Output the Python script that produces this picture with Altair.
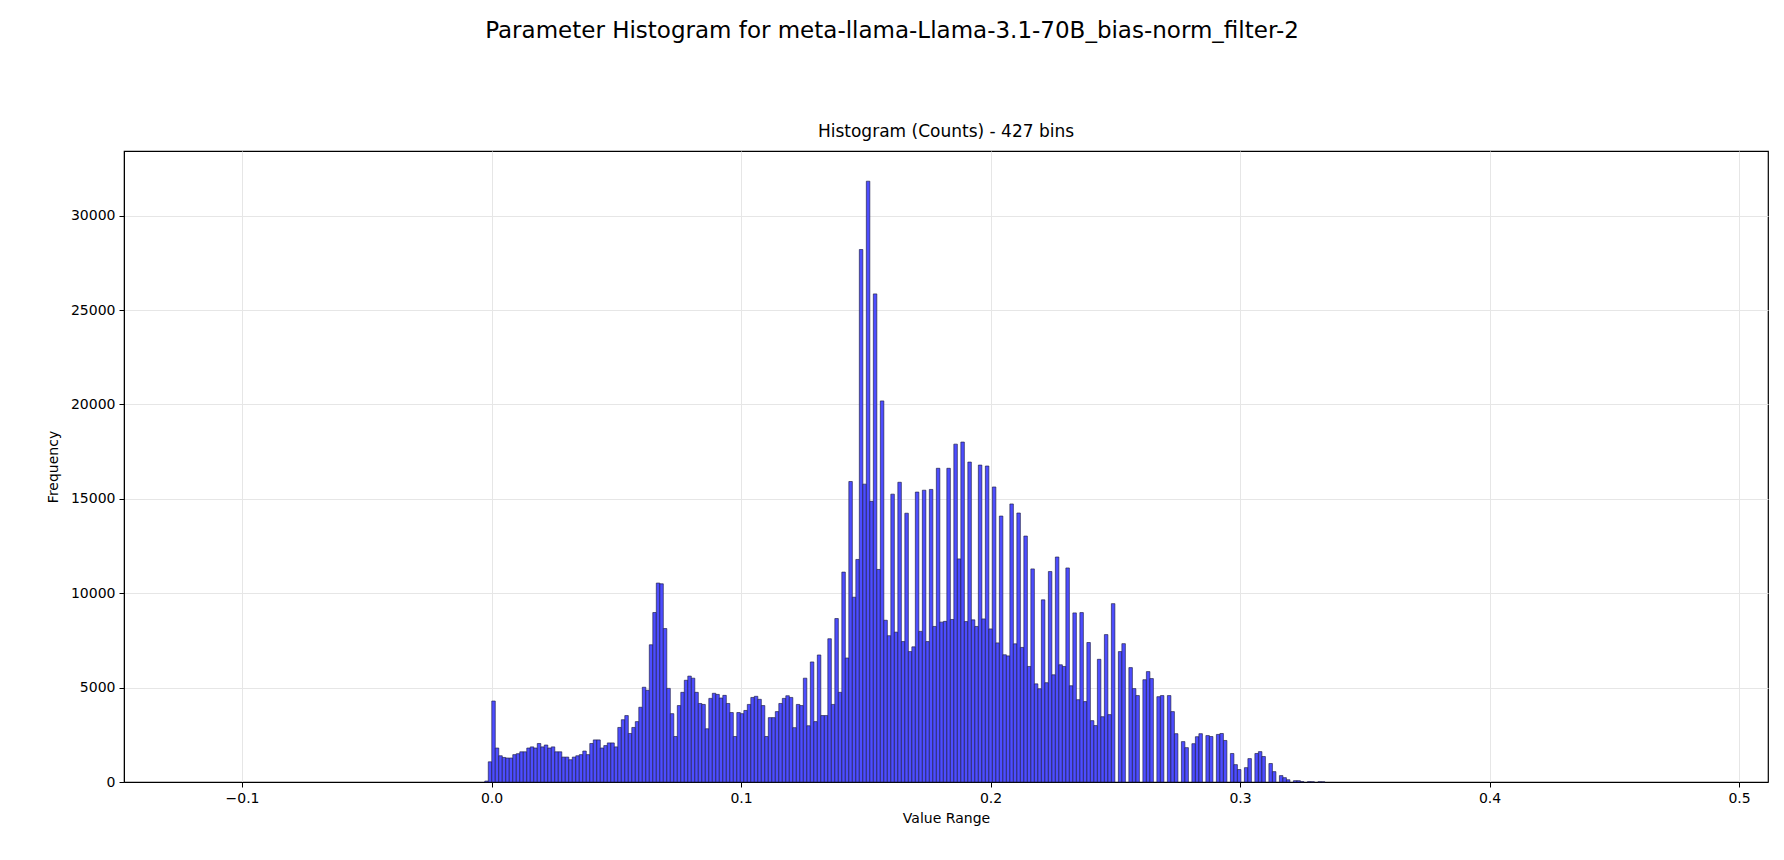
import altair as alt
import pandas as pd

N_BINS = 427
BIN_MIN = -0.11775
BIN_W = 0.001403
FIRST_NONZERO = 82

counts_from_first = [
    50, 1070, 4290, 1800, 1390, 1300, 1270, 1270, 1450, 1500, 1600, 1600, 1800, 1860, 1800, 2040, 1860, 1960, 1800, 1860,
    1600, 1600, 1320, 1320, 1180, 1320, 1390, 1450, 1640, 1450, 2040, 2230, 2230, 1800, 1930, 2070, 2070, 1860, 2890, 3300,
    3520, 2570, 2890,
    3200, 3960, 5020, 4860, 7270, 8980, 10540, 10500, 8130, 4960, 3620, 2410, 4050, 4750, 5390, 5610, 5500, 4750, 4160, 4110,
    2820, 4430, 4700, 4640, 4450, 4590, 4160, 3680, 2410, 3680, 3620, 3790, 4110, 4480, 4540, 4380, 4050, 2410, 3410, 3410, 3730,
    4160, 4430, 4570, 4480, 2880, 4110, 4050, 5500, 2980, 6360, 3200, 6730, 3520, 3520, 7590, 4110, 8660, 4750, 11120, 6570,
    15920, 9790, 11790, 28210, 15780, 31830, 14870, 25860, 11260, 20190, 8570, 7750, 15250, 7940, 15880, 7440, 14240, 6910,
    7160, 15360, 7980, 15460, 7440, 15500, 8240, 16620, 8470, 8510, 16620, 8610,
    17900, 11820, 18010, 8500, 16950, 8590, 8240, 16790, 8640, 16740, 8110, 15630, 7370, 14090, 6740, 6680, 14730, 7320,
    14250, 7130, 13030, 6120, 11290, 5200, 4940, 9650, 5260, 11150, 5680, 11920, 6210, 6120, 11340, 5100, 8960, 4360,
    8975, 4260, 7390, 3250, 2990, 6500, 3460, 7810, 3570, 9450, 0, 6910, 7330, 0, 6060, 4950, 4580, 0, 5420, 5850, 5480, 0,
    4520, 4580, 0, 4580, 3730, 2560, 0, 2140, 1820, 0, 2030, 2400, 2560,
    0, 2460, 2410, 0, 2520, 2570, 2200, 0, 1510, 920, 660, 0, 760, 1240, 0, 1510, 1610, 1350, 0, 980, 550, 0, 340, 230, 120,
    0, 70, 70, 20, 0, 15, 10, 0, 10, 5,
]

counts = [0] * N_BINS
for i, c in enumerate(counts_from_first):
    counts[FIRST_NONZERO + i] = c

rows = []
for i, c in enumerate(counts):
    if c > 0:
        rows.append({"start": BIN_MIN + i * BIN_W, "end": BIN_MIN + (i + 1) * BIN_W, "count": c, "zero": 0})
df = pd.DataFrame(rows)

x_ticks = [-0.1, 0.0, 0.1, 0.2, 0.3, 0.4, 0.5]
y_ticks = [0, 5000, 10000, 15000, 20000, 25000, 30000]

W, H = 1644, 631

xscale = alt.Scale(domain=[-0.1473, 0.5116], nice=False, zero=False)
yscale = alt.Scale(domain=[0, 33430], nice=False)

bars = alt.Chart(df).mark_bar(
    color="#4d4dff", stroke="#1a1a40", strokeWidth=0.7, strokeOpacity=0.9
).encode(
    x=alt.X("start:Q", scale=xscale, axis=alt.Axis(
        values=x_ticks, format=".1f", title="Value Range", grid=True, gridColor="#e6e6e6",
        labelFontSize=14, titleFontSize=14, titleFontWeight="normal", labelColor="black", titleColor="black",
        tickColor="black", domainColor="black", titlePadding=6, labelPadding=4)),
    x2="end:Q",
    y=alt.Y("count:Q", scale=yscale, axis=alt.Axis(
        values=y_ticks, format="d", title="Frequency", grid=True, gridColor="#e6e6e6",
        labelFontSize=14, titleFontSize=14, titleFontWeight="normal", labelColor="black", titleColor="black",
        tickColor="black", domainColor="black", titlePadding=10, labelPadding=4)),
    y2="zero:Q",
)

titles = pd.DataFrame({
    "t": ["Parameter Histogram for meta-llama-Llama-3.1-70B_bias-norm_filter-2", "Histogram (Counts) - 427 bins"],
})

suptitle = alt.Chart(titles.iloc[[0]]).mark_text(
    fontSize=23, color="black", align="center", baseline="middle", font="DejaVu Sans"
).encode(text="t:N", x=alt.value(768), y=alt.value(-120))

axtitle = alt.Chart(titles.iloc[[1]]).mark_text(
    fontSize=17, color="black", align="center", baseline="middle", font="DejaVu Sans"
).encode(text="t:N", x=alt.value(W / 2), y=alt.value(-19))

chart = alt.layer(bars, suptitle, axtitle).properties(
    width=W, height=H,
    autosize=alt.AutoSizeParams(type="none"),
    padding={"left": 116, "top": 143, "right": 8, "bottom": 70},
).configure(font="DejaVu Sans").configure_view(stroke="black", strokeWidth=1.2)

chart.save("out.html", embed_options={"renderer": "svg", "actions": False})
